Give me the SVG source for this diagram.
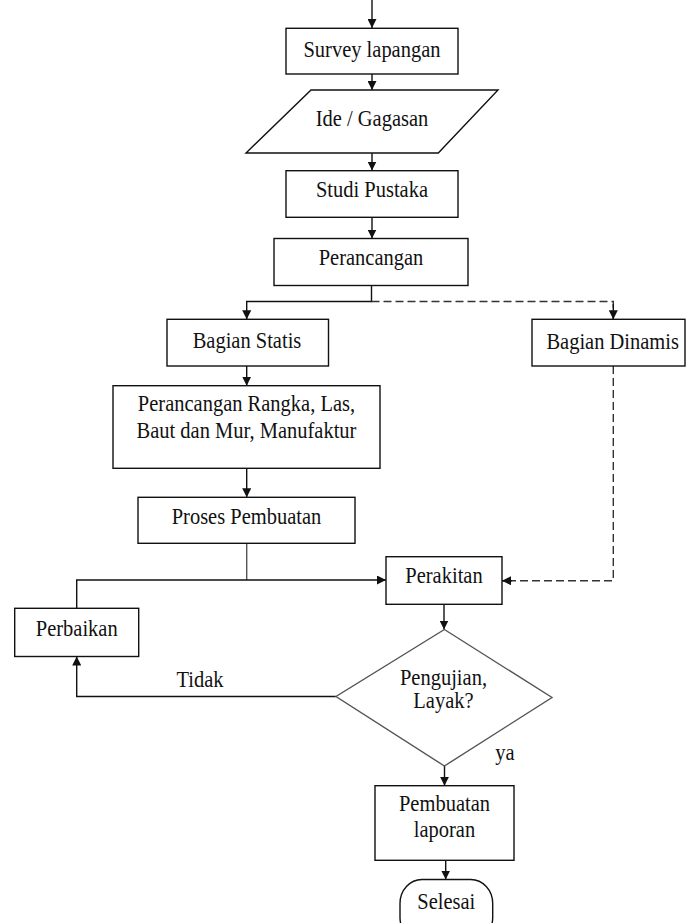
<svg xmlns="http://www.w3.org/2000/svg" width="686" height="923" viewBox="0 0 686 923">
<defs>
<style>
.box{fill:#fff;stroke:#111;stroke-width:1.4}
.dia{fill:#fff;stroke:#555;stroke-width:1.4}
.t{font-family:"Liberation Serif","Times New Roman",serif;font-size:20.5px;fill:#111;text-anchor:middle}
.ln{fill:none;stroke:#111;stroke-width:1.4}
.ln2{fill:none;stroke:#555;stroke-width:1.4}
.dash{fill:none;stroke:#333;stroke-width:1.4;stroke-dasharray:8 4}
</style>
<marker id="ar" viewBox="0 0 10 10" refX="10" refY="5" markerWidth="9" markerHeight="9" markerUnits="userSpaceOnUse" orient="auto">
<path d="M0,0 L10,5 L0,10 z" fill="#111"/>
</marker>
</defs>
<rect width="686" height="923" fill="#fff"/>
<g id="connectors">
<path class="ln" d="M372,0 V28" marker-end="url(#ar)"/>
<path class="ln" d="M372,74 V90" marker-end="url(#ar)"/>
<path class="ln" d="M372,153 V170.5" marker-end="url(#ar)"/>
<path class="ln" d="M372,217 V238.5" marker-end="url(#ar)"/>
<path class="ln" d="M371.5,285.5 V301.5 H246.7 V319.3" marker-end="url(#ar)"/>
<path class="dash" d="M371.5,301.5 H613.3 V319.3"/>
<path class="ln" d="M613.3,304 V319.3" marker-end="url(#ar)"/>
<path class="ln" d="M246.7,366 V385.7" marker-end="url(#ar)"/>
<path class="ln" d="M246.7,468.3 V497.3" marker-end="url(#ar)"/>
<path class="ln2" d="M246.7,543.3 V580"/>
<path class="ln" d="M76.7,608.3 V580 H386" marker-end="url(#ar)"/>
<path class="dash" d="M613.3,366 V580.7 H502"/>
<path class="ln" d="M512,580.7 H502" marker-end="url(#ar)"/>
<path class="ln" d="M444,604.3 V629.5" marker-end="url(#ar)"/>
<path class="ln" d="M336,696.5 H76.7 V656.5" marker-end="url(#ar)"/>
<path class="ln" d="M444.5,766 V785.7" marker-end="url(#ar)"/>
<path class="ln" d="M445.7,860.5 V879.5" marker-end="url(#ar)"/>
<text class="t" x="200" y="686.7" transform="matrix(1 0 0 1.1 0 -68.67)">Tidak</text>
<text class="t" x="505" y="760" transform="matrix(1 0 0 1.1 0 -76)">ya</text>
</g>
<g id="survey">
<rect class="box" x="286" y="28.3" width="172" height="45.7"/>
<text class="t" x="372" y="57.5" transform="matrix(1 0 0 1.1 0 -5.75)">Survey lapangan</text>
</g>
<g id="ide">
<polygon class="box" points="311,90 498,90 438.3,153 246,153"/>
<text class="t" x="372" y="126" transform="matrix(1 0 0 1.1 0 -12.6)">Ide / Gagasan</text>
</g>
<g id="studi">
<rect class="box" x="286" y="170.7" width="172" height="46.6"/>
<text class="t" x="372" y="196.7" transform="matrix(1 0 0 1.1 0 -19.67)">Studi Pustaka</text>
</g>
<g id="perancangan">
<rect class="box" x="274" y="238.5" width="194" height="47"/>
<text class="t" x="371" y="265" transform="matrix(1 0 0 1.1 0 -26.5)">Perancangan</text>
</g>
<g id="statis">
<rect class="box" x="167" y="319.3" width="161.5" height="46.7"/>
<text class="t" x="247" y="348.5" transform="matrix(1 0 0 1.1 0 -34.85)">Bagian Statis</text>
</g>
<g id="dinamis">
<rect class="box" x="532" y="319.3" width="153" height="46.7"/>
<text class="t" x="612.7" y="349.3" transform="matrix(1 0 0 1.1 0 -34.93)">Bagian Dinamis</text>
</g>
<g id="rangka">
<rect class="box" x="113" y="385.7" width="267" height="82.6"/>
<text class="t" x="246.5" y="410.7" transform="matrix(1 0 0 1.1 0 -41.07)">Perancangan Rangka, Las,</text>
<text class="t" x="246.5" y="437.7" transform="matrix(1 0 0 1.1 0 -43.77)">Baut dan Mur, Manufaktur</text>
</g>
<g id="proses">
<rect class="box" x="138" y="497.3" width="217" height="46"/>
<text class="t" x="246.5" y="524.3" transform="matrix(1 0 0 1.1 0 -52.43)">Proses Pembuatan</text>
</g>
<g id="perakitan">
<rect class="box" x="386" y="556.7" width="116" height="47.6"/>
<text class="t" x="444" y="583.3" transform="matrix(1 0 0 1.1 0 -58.33)">Perakitan</text>
</g>
<g id="perbaikan">
<rect class="box" x="14.7" y="608.3" width="124" height="48.2"/>
<text class="t" x="76.7" y="636" transform="matrix(1 0 0 1.1 0 -63.6)">Perbaikan</text>
</g>
<g id="pengujian">
<polygon class="dia" points="444.4,629.5 552,697.5 444.4,766 336,696.5"/>
<text class="t" x="443.5" y="685" transform="matrix(1 0 0 1.1 0 -68.5)">Pengujian,</text>
<text class="t" x="443.5" y="708.3" transform="matrix(1 0 0 1.1 0 -70.83)">Layak?</text>
</g>
<g id="laporan">
<rect class="box" x="375" y="785.7" width="139" height="74.6"/>
<text class="t" x="444.5" y="810.7" transform="matrix(1 0 0 1.1 0 -81.07)">Pembuatan</text>
<text class="t" x="444.5" y="837.3" transform="matrix(1 0 0 1.1 0 -83.73)">laporan</text>
</g>
<g id="selesai">
<rect class="box" x="400" y="879.5" width="92.7" height="62" rx="22" ry="24"/>
<text class="t" x="446.3" y="909.3" transform="matrix(1 0 0 1.1 0 -90.93)">Selesai</text>
</g>
</svg>
